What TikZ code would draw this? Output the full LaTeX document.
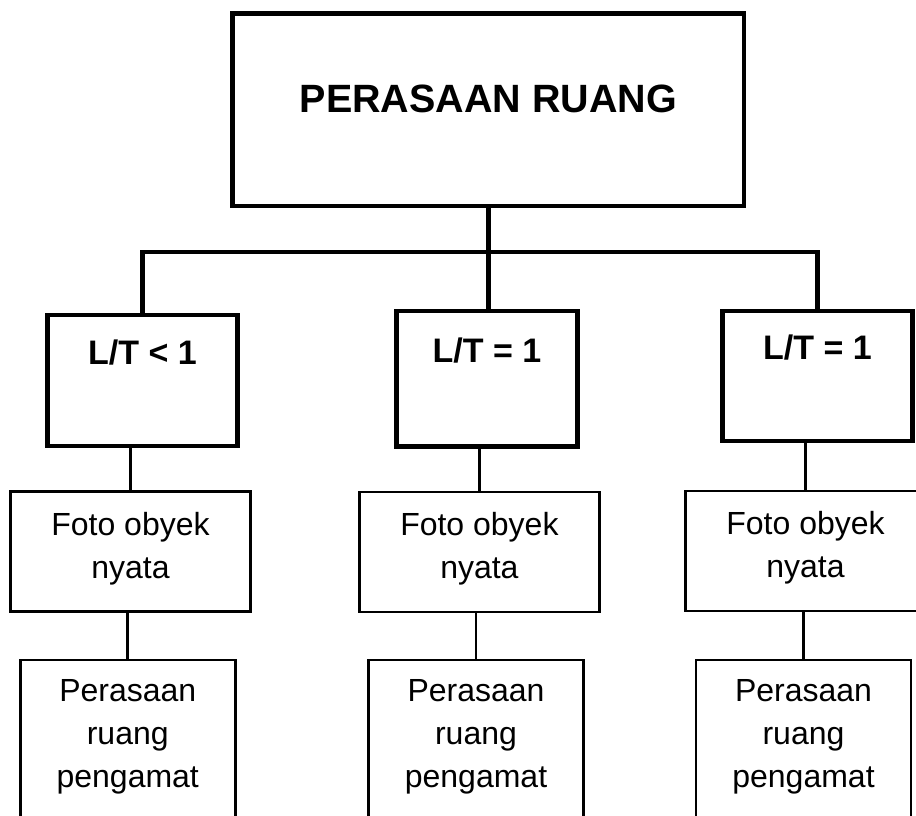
\documentclass[tikz,border=0pt]{standalone}
\usepackage{fontspec}
\setmainfont{Liberation Sans}
\usepackage{tikz}

\begin{document}
\begin{tikzpicture}[x=0.75pt, y=-0.75pt,
    trunk/.style={line width=3.6pt},
    link/.style={line width=1.9pt},
    mainbox/.style={draw, trunk, minimum width=383.6pt, minimum height=144.4pt,
        font=\fontsize{29.6}{36}\selectfont\bfseries, text height=22pt, text depth=18.6pt},
    ratiobox/.style={draw, trunk, minimum width=142.5pt, minimum height=98pt,
        font=\fontsize{25.5}{30}\selectfont\bfseries, text height=18pt, text depth=42.75pt},
    photobox/.style={draw, link, minimum width=180pt, minimum height=90pt, align=center,
        font=\fontsize{24}{32.25}\selectfont, text height=52.5pt, text depth=12.75pt},
    sensebox/.style={draw, link, minimum width=161.25pt, minimum height=127.5pt, align=center,
        font=\fontsize{24}{32}\selectfont, text height=82.5pt, text depth=19.5pt}]
    \useasboundingbox (0,0) rectangle (916,815);
    \clip (0,0) rectangle (916,815);
    % Nodes
    \node[mainbox] (title) at (488.25,109.75) {PERASAAN RUANG};
    \node[ratiobox, minimum height=98.25pt] (ratio1) at (142.5,380.5) {L/T < 1};
    \node[ratiobox, minimum width=135.75pt, minimum height=101.6pt] (ratio2) at (487,378.75) {L/T = 1};
    \node[ratiobox, minimum height=97.5pt] (ratio3) at (817.5,376) {L/T = 1};
    \node[photobox] (photo1) at (130.5,551.5) {Foto obyek\\nyata};
    \node[photobox] (photo2) at (479.4,552) {Foto obyek\\nyata};
    \node[photobox] (photo3) at (805.5,551) {Foto obyek\\nyata};
    \node[sensebox] (sense1) at (127.75,745) {Perasaan\\ruang\\pengamat};
    \node[sensebox] (sense2) at (476,745) {Perasaan\\ruang\\pengamat};
    \node[sensebox] (sense3) at (803.5,745) {Perasaan\\ruang\\pengamat};
    \coordinate (bus) at (488,252);
    % Lines
    \draw[trunk] (title.south) -- (title.south |- ratio2.north);
    \draw[trunk] (ratio1.north) |- (bus) -| (ratio3.north);
    \draw[link] (ratio1.south -| photo1.north) -- (photo1.north);
    \draw[link] (ratio2.south -| photo2.north) -- (photo2.north);
    \draw[link] (ratio3.south -| photo3.north) -- (photo3.north);
    \draw[link] (photo1.south -| sense1.north) -- (sense1.north);
    \draw[link] (photo2.south -| sense2.north) -- (sense2.north);
    \draw[link] (photo3.south -| sense3.north) -- (sense3.north);
\end{tikzpicture}
\end{document}
